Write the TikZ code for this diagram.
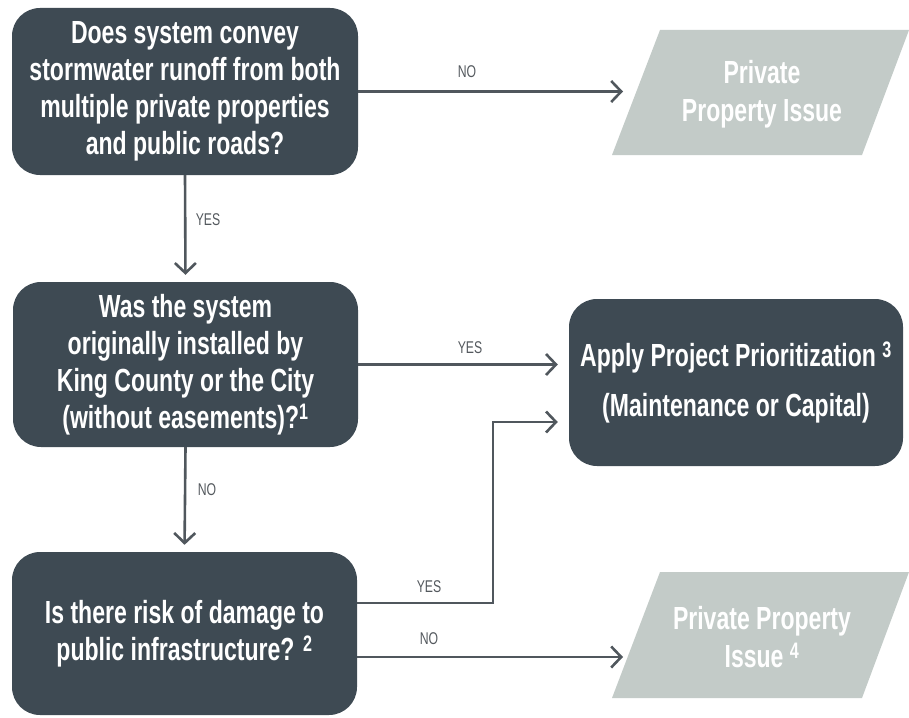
\documentclass[tikz,border=0pt]{standalone}
\usepackage{fontspec}
\setmainfont{Liberation Sans}[FakeStretch=0.72]
\usetikzlibrary{arrows.meta}
\definecolor{boxc}{HTML}{3E4A53}
\definecolor{parc}{HTML}{C3CBC8}
\definecolor{linec}{HTML}{50575D}
\definecolor{lblc}{HTML}{54595E}
\begin{document}
\begin{tikzpicture}[x=1pt,y=-1pt,
  qbox/.style={fill=boxc, rounded corners=28pt, text=white, font=\bfseries\fontsize{32}{37}\selectfont, align=center, inner sep=0pt},
  lbl/.style={text=lblc, font=\fontsize{17}{20}\selectfont, inner sep=0pt},
  arr/.style={draw=linec, line width=2.6pt, -{Straight Barb[length=10pt,width=21pt]}},
  ptxt/.style={text=white, font=\bfseries\fontsize{32}{38}\selectfont, align=center, inner sep=0pt}]
\useasboundingbox (0,0) rectangle (909,717);

% decision boxes
\node[qbox, minimum width=346pt, minimum height=167pt] (b1) at (185,91.5)
  {Does system convey\\stormwater runoff from both\\multiple private properties\\and public roads?};
\node[qbox, minimum width=345pt, minimum height=165pt] (b2) at (185.5,364.5)
  {Was the system\\originally installed by\\King County or the City\\(without easements)?\textsuperscript{1}};
\node[qbox, minimum width=334pt, minimum height=167pt, font=\bfseries\fontsize{32}{50}\selectfont] (b3) at (736,382.5)
  {Apply Project Prioritization \textsuperscript{3}\\(Maintenance or Capital)};
\node[qbox, minimum width=345pt, minimum height=163pt] (b4) at (184.5,633.5)
  {Is there risk of damage to\\public infrastructure? \textsuperscript{2}};

% outcome parallelograms
\fill[parc] (612,155) -- (862,155) -- (909,30) -- (660,30) -- cycle;
\node[ptxt] (p1) at (762,94) {Private\\Property Issue};
\fill[parc] (612,698) -- (862,698) -- (909,572) -- (660,572) -- cycle;
\node[ptxt] (p2) at (762,637) {Private Property\\Issue \textsuperscript{4}};

\coordinate (p1in) at (623,91.5);
\coordinate (p2in) at (623,657);
\coordinate (j) at (493,422);

% connectors
\draw[arr] (b1.east) -- (p1in);
\draw[arr, shorten >=7pt] (b1.south) -- (b2.north);
\draw[arr, shorten >=11pt] (b2.east) -- (b2.east -| b3.west);
\draw[arr, shorten >=7pt] (b2.south) -- (b4.north);
\draw[arr, shorten >=11pt] ([yshift=30.5pt]b4.east) -| (j) -- (j -| b3.west);
\draw[arr] ([yshift=-23.5pt]b4.east) -- (p2in);

% labels
\node[lbl] (l1) at (467,72) {NO};
\node[lbl] (l2) at (208,220) {YES};
\node[lbl] (l3) at (470,348) {YES};
\node[lbl] (l4) at (207,490) {NO};
\node[lbl] (l5) at (429,587) {YES};
\node[lbl] (l6) at (429,639) {NO};
\end{tikzpicture}
\end{document}
